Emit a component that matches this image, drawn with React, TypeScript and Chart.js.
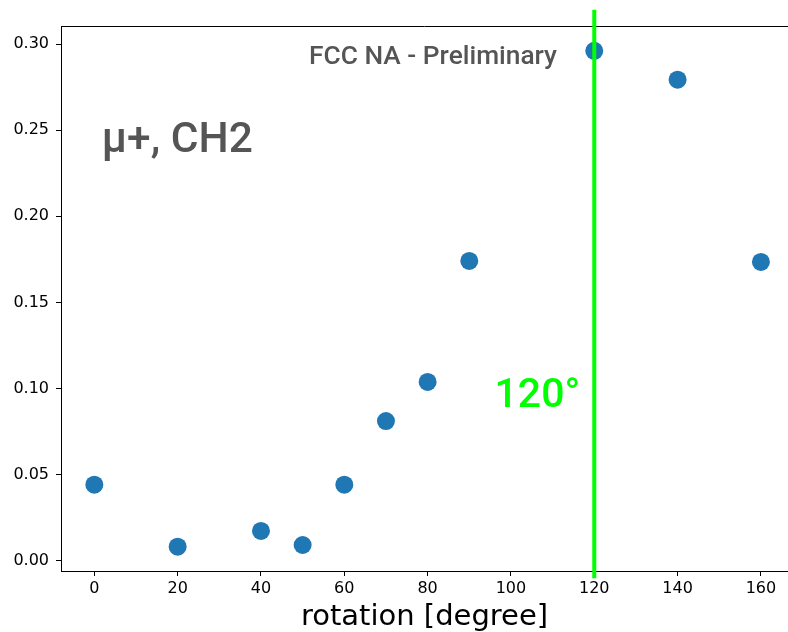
import React, { useEffect, useRef } from "react";
import { Chart, registerables } from "chart.js";

Chart.register(...registerables);

const rotations = [0, 20, 40, 50, 60, 70, 80, 90, 120, 140, 160];
const values = [0.0441, 0.0081, 0.0173, 0.0091, 0.0441, 0.0811, 0.1038, 0.1741, 0.2961, 0.2793, 0.1735];
const xTicks = [0, 20, 40, 60, 80, 100, 120, 140, 160];
const yTicks = [0, 0.05, 0.1, 0.15, 0.2, 0.25, 0.3];
const markerAngle = 120;
const xTitle = "rotation [degree]";
const watermark = "FCC NA - Preliminary";
const channelLabel = "μ+, CH2";
const angleLabel = "120°";

const annotationPlugin = {
  id: "annotations",
  afterDraw(chart: any) {
    const { ctx, chartArea, scales } = chart;
    const xs = scales.x;
    const ys = scales.y;
    ctx.save();
    // top spine
    ctx.strokeStyle = "#000";
    ctx.lineWidth = 1;
    ctx.beginPath();
    ctx.moveTo(chartArea.left, chartArea.top + 0.5);
    ctx.lineTo(chartArea.right, chartArea.top + 0.5);
    ctx.stroke();

    // green vertical line
    const gx = xs.getPixelForValue(markerAngle);
    ctx.strokeStyle = "#00ff00";
    ctx.lineWidth = 4;
    ctx.beginPath();
    ctx.moveTo(gx, ys.getPixelForValue(0.32));
    ctx.lineTo(gx, ys.getPixelForValue(-0.0102));
    ctx.stroke();

    // texts
    ctx.textBaseline = "alphabetic";
    ctx.fillStyle = "#555555";
    ctx.font = "500 26.3px Roboto";
    ctx.textAlign = "center";
    ctx.fillText(watermark, xs.getPixelForValue(81.3), ys.getPixelForValue(0.2885));

    ctx.font = "500 42.5px Roboto";
    ctx.textAlign = "left";
    ctx.fillText(channelLabel, xs.getPixelForValue(1.8), ys.getPixelForValue(0.2371));

    ctx.fillStyle = "#00ff00";
    ctx.font = "500 41px Roboto";
    ctx.textAlign = "right";
    ctx.fillText(angleLabel, xs.getPixelForValue(116.6), ys.getPixelForValue(0.0893));
    ctx.restore();
  },
};

export default function App() {
  const ref = useRef<HTMLCanvasElement>(null);
  useEffect(() => {
    if (!ref.current) return;
    const chart = new Chart(ref.current, {
      type: "scatter",
      data: {
        datasets: [
          {
            data: rotations.map((r, i) => ({ x: r, y: values[i] })),
            backgroundColor: "#1f77b4",
            borderColor: "#1f77b4",
            borderWidth: 0,
            pointRadius: 9,
            pointHoverRadius: 9,
          },
        ],
      },
      options: {
        animation: false,
        responsive: true,
        maintainAspectRatio: false,
        layout: { autoPadding: false, padding: { top: 26, right: 0, left: 0, bottom: 0 } },
        plugins: { legend: { display: false }, tooltip: { enabled: false } },
        scales: {
          x: {
            type: "linear",
            min: -8,
            max: 166.5,
            afterFit: (s: any) => {
              s.height = 61;
              s.paddingLeft = 0;
              s.paddingRight = 0;
            },
            afterBuildTicks: (s: any) => {
              s.ticks = xTicks.map((v) => ({ value: v }));
            },
            ticks: {
              callback: (v: any) => String(v),
              font: { family: "DejaVu Sans", size: 16 },
              color: "#000",
              padding: 3,
              maxRotation: 0,
              autoSkip: false,
            },
            grid: { drawOnChartArea: false, drawTicks: true, tickLength: 5, tickColor: "#000", color: "#000" },
            border: { display: true, color: "#000", width: 1 },
            title: {
              display: true,
              text: xTitle,
              color: "#000",
              font: { family: "DejaVu Sans", size: 29, lineHeight: 1 },
              padding: { top: 0, bottom: 0 },
            },
          },
          y: {
            type: "linear",
            min: -0.006,
            max: 0.3105,
            afterFit: (s: any) => {
              s.width = 61;
              s.paddingTop = 0;
              s.paddingBottom = 0;
            },
            afterBuildTicks: (s: any) => {
              s.ticks = yTicks.map((v) => ({ value: v }));
            },
            ticks: {
              callback: (v: any) => Number(v).toFixed(2),
              font: { family: "DejaVu Sans", size: 16 },
              color: "#000",
              padding: 7,
              autoSkip: false,
            },
            grid: { drawOnChartArea: false, drawTicks: true, tickLength: 5, tickColor: "#000", color: "#000" },
            border: { display: true, color: "#000", width: 1 },
          },
        },
      },
      plugins: [annotationPlugin],
    } as any);
    return () => chart.destroy();
  }, []);
  return (
    <div style={{ position: "fixed", left: 0, top: 0, width: 788, height: 632, background: "#fff" }}>
      <canvas ref={ref} />
    </div>
  );
}
